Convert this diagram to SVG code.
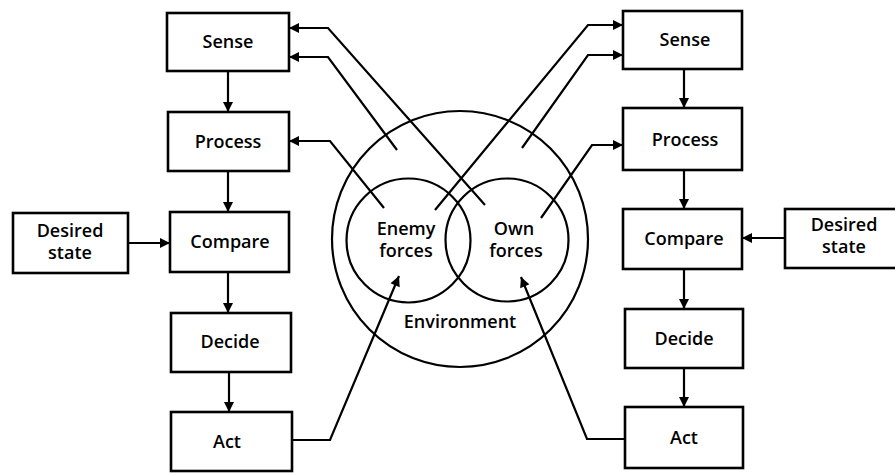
<svg xmlns="http://www.w3.org/2000/svg" width="895" height="474" viewBox="0 0 895 474">
<defs>
<marker id="ah" viewBox="0 0 10 10" refX="10" refY="5" markerWidth="11" markerHeight="10" markerUnits="userSpaceOnUse" orient="auto">
<path d="M0,0 L10,5 L0,10 z" fill="#000"/>
</marker>
<style>
.box{fill:#fff;stroke:#000;stroke-width:2.6}
.circ{fill:none;stroke:#000;stroke-width:2.2}
.t{font-family:"Open Sans","Liberation Sans",sans-serif;font-weight:600;font-size:18px;fill:#000;text-anchor:middle}
.c{fill:none;stroke:#000;stroke-width:2.2;marker-end:url(#ah)}
</style>
</defs>
<rect width="895" height="474" fill="#fff"/>
<g id="environment">
<circle class="circ" cx="460" cy="239" r="128"/>
<text class="t" x="460" y="328">Environment</text>
</g>
<g id="enemy-forces">
<circle class="circ" cx="408.5" cy="240.5" r="62"/>
<text class="t" x="406" y="235">Enemy</text>
<text class="t" x="406" y="257">forces</text>
</g>
<g id="own-forces">
<circle class="circ" cx="507" cy="240" r="61.5"/>
<text class="t" x="514" y="235">Own</text>
<text class="t" x="516" y="257">forces</text>
</g>
<g id="connectors">
<path class="c" d="M228,71 V112"/>
<path class="c" d="M228,171 V212"/>
<path class="c" d="M228,272 V313"/>
<path class="c" d="M229,372 V412"/>
<path class="c" d="M128,243 H170"/>
<path class="c" d="M485,205 L328,28 H289"/>
<path class="c" d="M397,150 L328,57 H289"/>
<path class="c" d="M384,208 L330,141 H289"/>
<path class="c" d="M292,440 H330 L399,276"/>
<path class="c" d="M684,69 V108"/>
<path class="c" d="M684,170 V209"/>
<path class="c" d="M684,269 V309"/>
<path class="c" d="M684,368 V407"/>
<path class="c" d="M785,238 H742"/>
<path class="c" d="M435,210 L588,25 H623"/>
<path class="c" d="M522,148 L588,55 H623"/>
<path class="c" d="M541,218 L592,145 H623"/>
<path class="c" d="M625,439 H587 L521,277"/>
</g>
<g id="l-sense"><rect class="box" x="167" y="13" width="122" height="58"/><text class="t" x="228" y="48">Sense</text></g>
<g id="l-process"><rect class="box" x="168" y="112" width="121" height="59"/><text class="t" x="228" y="148">Process</text></g>
<g id="l-compare"><rect class="box" x="170" y="212" width="119" height="60"/><text class="t" x="230" y="248">Compare</text></g>
<g id="l-decide"><rect class="box" x="171" y="313" width="120" height="59"/><text class="t" x="230" y="348">Decide</text></g>
<g id="l-act"><rect class="box" x="171" y="412" width="121" height="59"/><text class="t" x="227" y="448">Act</text></g>
<g id="l-desired"><rect class="box" x="13" y="213" width="115" height="60"/><text class="t" x="70" y="237">Desired</text><text class="t" x="70" y="259">state</text></g>
<g id="r-sense"><rect class="box" x="623" y="11" width="119" height="58"/><text class="t" x="685" y="46">Sense</text></g>
<g id="r-process"><rect class="box" x="623" y="108" width="119" height="62"/><text class="t" x="685" y="146">Process</text></g>
<g id="r-compare"><rect class="box" x="623" y="209" width="119" height="60"/><text class="t" x="684" y="245">Compare</text></g>
<g id="r-decide"><rect class="box" x="625" y="309" width="118" height="59"/><text class="t" x="684" y="345">Decide</text></g>
<g id="r-act"><rect class="box" x="625" y="407" width="118" height="61"/><text class="t" x="684" y="444">Act</text></g>
<g id="r-desired"><rect class="box" x="785" y="209" width="118" height="59"/><text class="t" x="844" y="231">Desired</text><text class="t" x="844" y="253">state</text></g>
</svg>
